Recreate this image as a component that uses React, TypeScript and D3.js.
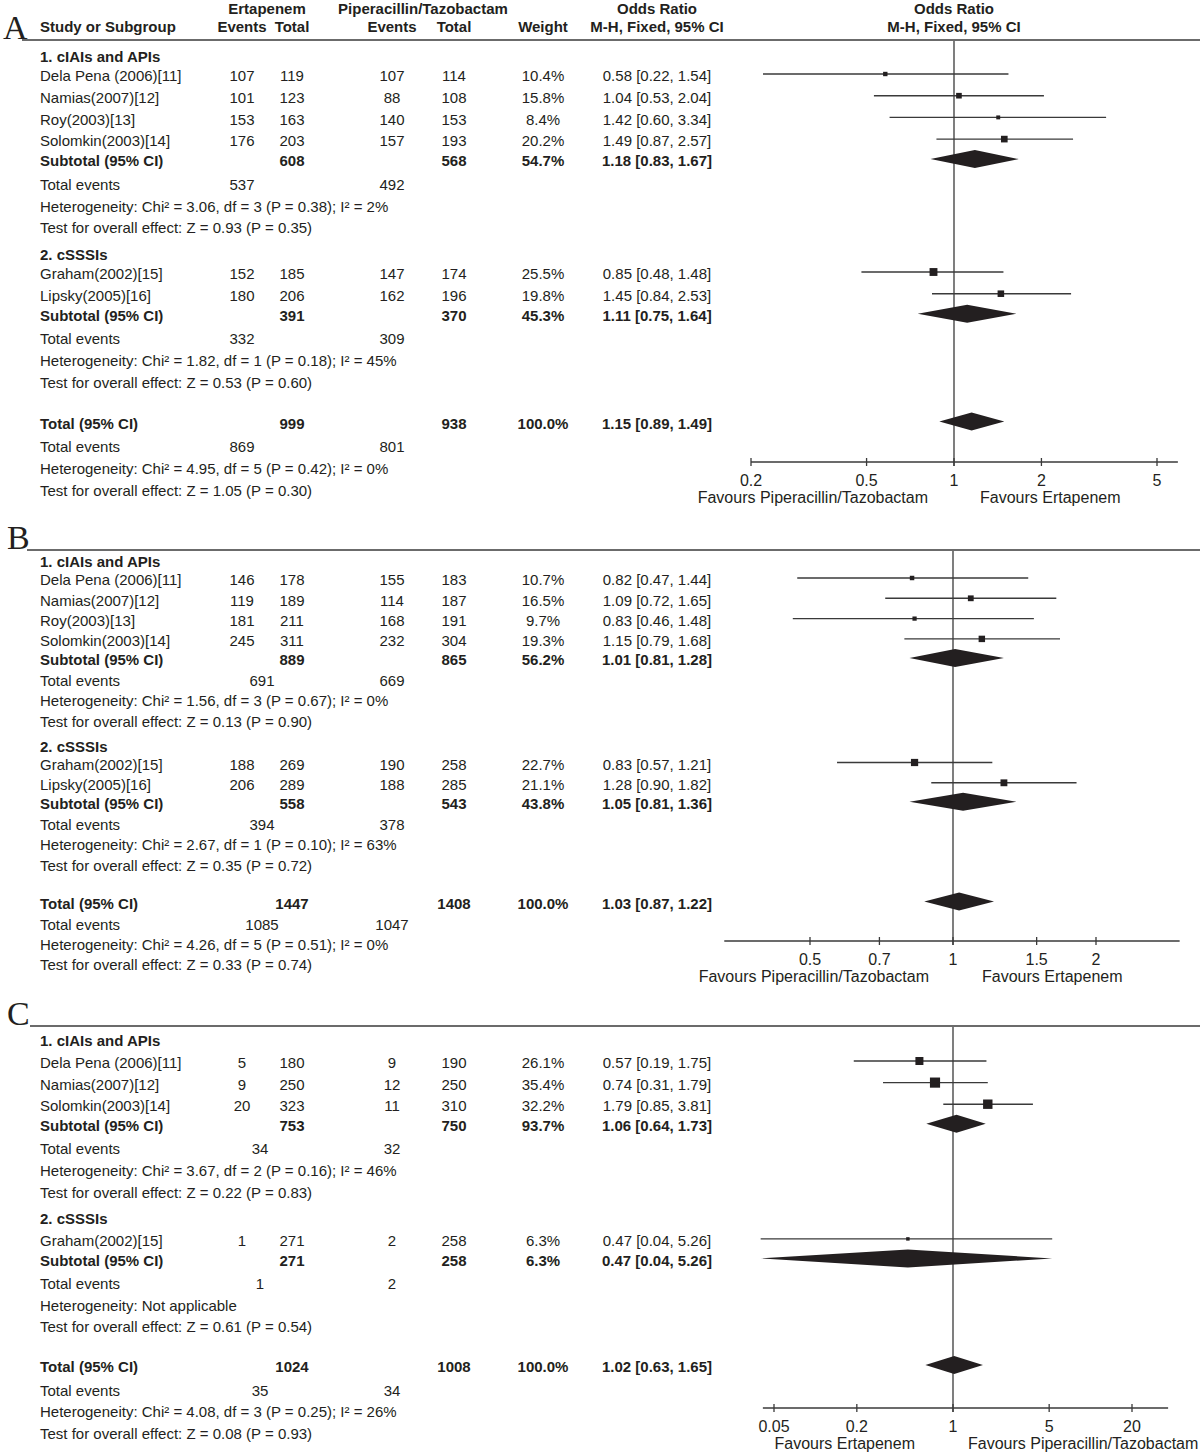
import React from "react";
import * as d3 from "d3";

interface Study { name: string; ertEvents: number; ertTotal: number; pipEvents: number; pipTotal: number; weight: number; or: number; lo: number; hi: number; }
interface Summary { label: string; ertTotal: number; pipTotal: number; weight: number; or: number; lo: number; hi: number; ertEvents: number; pipEvents: number; heterogeneity: string; overall: string; }

const groupLabels = ["1. cIAIs and APIs", "2. cSSSIs"];

// ---------- Panel A ----------
const studiesA1: Study[] = [
  { name: "Dela Pena (2006)[11]", ertEvents: 107, ertTotal: 119, pipEvents: 107, pipTotal: 114, weight: 10.4, or: 0.58, lo: 0.22, hi: 1.54 },
  { name: "Namias(2007)[12]", ertEvents: 101, ertTotal: 123, pipEvents: 88, pipTotal: 108, weight: 15.8, or: 1.04, lo: 0.53, hi: 2.04 },
  { name: "Roy(2003)[13]", ertEvents: 153, ertTotal: 163, pipEvents: 140, pipTotal: 153, weight: 8.4, or: 1.42, lo: 0.6, hi: 3.34 },
  { name: "Solomkin(2003)[14]", ertEvents: 176, ertTotal: 203, pipEvents: 157, pipTotal: 193, weight: 20.2, or: 1.49, lo: 0.87, hi: 2.57 },
];
const studiesA2: Study[] = [
  { name: "Graham(2002)[15]", ertEvents: 152, ertTotal: 185, pipEvents: 147, pipTotal: 174, weight: 25.5, or: 0.85, lo: 0.48, hi: 1.48 },
  { name: "Lipsky(2005)[16]", ertEvents: 180, ertTotal: 206, pipEvents: 162, pipTotal: 196, weight: 19.8, or: 1.45, lo: 0.84, hi: 2.53 },
];
const subtotalsA: Summary[] = [
  { label: "Subtotal (95% CI)", ertTotal: 608, pipTotal: 568, weight: 54.7, or: 1.18, lo: 0.83, hi: 1.67, ertEvents: 537, pipEvents: 492, heterogeneity: "Heterogeneity: Chi² = 3.06, df = 3 (P = 0.38); I² = 2%", overall: "Test for overall effect: Z = 0.93 (P = 0.35)" },
  { label: "Subtotal (95% CI)", ertTotal: 391, pipTotal: 370, weight: 45.3, or: 1.11, lo: 0.75, hi: 1.64, ertEvents: 332, pipEvents: 309, heterogeneity: "Heterogeneity: Chi² = 1.82, df = 1 (P = 0.18); I² = 45%", overall: "Test for overall effect: Z = 0.53 (P = 0.60)" },
];
const totalA: Summary = { label: "Total (95% CI)", ertTotal: 999, pipTotal: 938, weight: 100.0, or: 1.15, lo: 0.89, hi: 1.49, ertEvents: 869, pipEvents: 801, heterogeneity: "Heterogeneity: Chi² = 4.95, df = 5 (P = 0.42); I² = 0%", overall: "Test for overall effect: Z = 1.05 (P = 0.30)" };
const ticksA = [0.2, 0.5, 1, 2, 5];
const favoursA = ["Favours Piperacillin/Tazobactam", "Favours Ertapenem"];

// ---------- Panel B ----------
const studiesB1: Study[] = [
  { name: "Dela Pena (2006)[11]", ertEvents: 146, ertTotal: 178, pipEvents: 155, pipTotal: 183, weight: 10.7, or: 0.82, lo: 0.47, hi: 1.44 },
  { name: "Namias(2007)[12]", ertEvents: 119, ertTotal: 189, pipEvents: 114, pipTotal: 187, weight: 16.5, or: 1.09, lo: 0.72, hi: 1.65 },
  { name: "Roy(2003)[13]", ertEvents: 181, ertTotal: 211, pipEvents: 168, pipTotal: 191, weight: 9.7, or: 0.83, lo: 0.46, hi: 1.48 },
  { name: "Solomkin(2003)[14]", ertEvents: 245, ertTotal: 311, pipEvents: 232, pipTotal: 304, weight: 19.3, or: 1.15, lo: 0.79, hi: 1.68 },
];
const studiesB2: Study[] = [
  { name: "Graham(2002)[15]", ertEvents: 188, ertTotal: 269, pipEvents: 190, pipTotal: 258, weight: 22.7, or: 0.83, lo: 0.57, hi: 1.21 },
  { name: "Lipsky(2005)[16]", ertEvents: 206, ertTotal: 289, pipEvents: 188, pipTotal: 285, weight: 21.1, or: 1.28, lo: 0.9, hi: 1.82 },
];
const subtotalsB: Summary[] = [
  { label: "Subtotal (95% CI)", ertTotal: 889, pipTotal: 865, weight: 56.2, or: 1.01, lo: 0.81, hi: 1.28, ertEvents: 691, pipEvents: 669, heterogeneity: "Heterogeneity: Chi² = 1.56, df = 3 (P = 0.67); I² = 0%", overall: "Test for overall effect: Z = 0.13 (P = 0.90)" },
  { label: "Subtotal (95% CI)", ertTotal: 558, pipTotal: 543, weight: 43.8, or: 1.05, lo: 0.81, hi: 1.36, ertEvents: 394, pipEvents: 378, heterogeneity: "Heterogeneity: Chi² = 2.67, df = 1 (P = 0.10); I² = 63%", overall: "Test for overall effect: Z = 0.35 (P = 0.72)" },
];
const totalB: Summary = { label: "Total (95% CI)", ertTotal: 1447, pipTotal: 1408, weight: 100.0, or: 1.03, lo: 0.87, hi: 1.22, ertEvents: 1085, pipEvents: 1047, heterogeneity: "Heterogeneity: Chi² = 4.26, df = 5 (P = 0.51); I² = 0%", overall: "Test for overall effect: Z = 0.33 (P = 0.74)" };
const ticksB = [0.5, 0.7, 1, 1.5, 2];
const favoursB = ["Favours Piperacillin/Tazobactam", "Favours Ertapenem"];

// ---------- Panel C ----------
const studiesC1: Study[] = [
  { name: "Dela Pena (2006)[11]", ertEvents: 5, ertTotal: 180, pipEvents: 9, pipTotal: 190, weight: 26.1, or: 0.57, lo: 0.19, hi: 1.75 },
  { name: "Namias(2007)[12]", ertEvents: 9, ertTotal: 250, pipEvents: 12, pipTotal: 250, weight: 35.4, or: 0.74, lo: 0.31, hi: 1.79 },
  { name: "Solomkin(2003)[14]", ertEvents: 20, ertTotal: 323, pipEvents: 11, pipTotal: 310, weight: 32.2, or: 1.79, lo: 0.85, hi: 3.81 },
];
const studiesC2: Study[] = [
  { name: "Graham(2002)[15]", ertEvents: 1, ertTotal: 271, pipEvents: 2, pipTotal: 258, weight: 6.3, or: 0.47, lo: 0.04, hi: 5.26 },
];
const subtotalsC: Summary[] = [
  { label: "Subtotal (95% CI)", ertTotal: 753, pipTotal: 750, weight: 93.7, or: 1.06, lo: 0.64, hi: 1.73, ertEvents: 34, pipEvents: 32, heterogeneity: "Heterogeneity: Chi² = 3.67, df = 2 (P = 0.16); I² = 46%", overall: "Test for overall effect: Z = 0.22 (P = 0.83)" },
  { label: "Subtotal (95% CI)", ertTotal: 271, pipTotal: 258, weight: 6.3, or: 0.47, lo: 0.04, hi: 5.26, ertEvents: 1, pipEvents: 2, heterogeneity: "Heterogeneity: Not applicable", overall: "Test for overall effect: Z = 0.61 (P = 0.54)" },
];
const totalC: Summary = { label: "Total (95% CI)", ertTotal: 1024, pipTotal: 1008, weight: 100.0, or: 1.02, lo: 0.63, hi: 1.65, ertEvents: 35, pipEvents: 34, heterogeneity: "Heterogeneity: Chi² = 4.08, df = 3 (P = 0.25); I² = 26%", overall: "Test for overall effect: Z = 0.08 (P = 0.93)" };
const ticksC = [0.05, 0.2, 1, 5, 20];
const favoursC = ["Favours Ertapenem", "Favours Piperacillin/Tazobactam"];

// ---------- Header ----------
const headerTop = ["Ertapenem", "Piperacillin/Tazobactam", "Odds Ratio", "Odds Ratio"];
const headerBottom = ["Study or Subgroup", "Events", "Total", "Events", "Total", "Weight", "M-H, Fixed, 95% CI", "M-H, Fixed, 95% CI"];

// ---------- Layout (positions / styles) ----------
const W = 1200;
const H = 1453;
const FONT = "'Liberation Sans', Arial, Helvetica, sans-serif";
const SERIF = "'Liberation Serif', 'Times New Roman', serif";
const INK = "#231f20";
const LINE = "#3a3a3a";
const COL = { study: 40, ertEv: 242, ertTot: 292, pipEv: 392, pipTot: 454, weight: 543, or: 657 };

interface PanelCfg {
  letter: string; letterX: number; ruleY: number; ruleX0: number;
  start: number; step: number; gs: number; ss: number; te: number; tg: number; tt: number;
  axisY: number; domain: [number, number]; range: [number, number]; axisExtent: [number, number];
  ticks: number[]; favours: string[]; favL: number; favR: number; teX: number;
  groups: Study[][]; subs: Summary[]; total: Summary; header: boolean;
}

const panels: PanelCfg[] = [
  { letter: "A", letterX: 3, ruleY: 40, ruleX0: 22, start: 57, step: 21.7, gs: 19, ss: 20, te: 23.5, tg: 27, tt: 41,
    axisY: 462, domain: [0.2, 5], range: [751, 1157], axisExtent: [0.2, 5.9], ticks: ticksA, favours: favoursA, favL: 928, favR: 980, teX: 242,
    groups: [studiesA1, studiesA2], subs: subtotalsA, total: totalA, header: true },
  { letter: "B", letterX: 7, ruleY: 550, ruleX0: 27, start: 562, step: 20.3, gs: 18, ss: 19, te: 21, tg: 25, tt: 38,
    axisY: 941, domain: [0.5, 2], range: [810, 1096], axisExtent: [0.33, 3.0], ticks: ticksB, favours: favoursB, favL: 929, favR: 982, teX: 262,
    groups: [studiesB1, studiesB2], subs: subtotalsB, total: totalB, header: false },
  { letter: "C", letterX: 7, ruleY: 1026, ruleX0: 30, start: 1040.5, step: 21.6, gs: 22.5, ss: 19.5, te: 23.5, tg: 26, tt: 40,
    axisY: 1408, domain: [0.05, 20], range: [774, 1132], axisExtent: [0.0415, 36.6], ticks: ticksC, favours: favoursC, favL: 915, favR: 968, teX: 260,
    groups: [studiesC1, studiesC2], subs: subtotalsC, total: totalC, header: false },
];

type Row =
  | { kind: "group"; y: number; label: string }
  | { kind: "study"; y: number; s: Study }
  | { kind: "sub" | "total"; y: number; s: Summary }
  | { kind: "te"; y: number; s: Summary }
  | { kind: "het" | "test"; y: number; text: string };

function layoutRows(p: PanelCfg): Row[] {
  const rows: Row[] = [];
  let y = p.start;
  let prev: string | null = null;
  const push = (r: any) => {
    if (prev !== null) {
      let inc = p.step;
      if (r.kind === "study" && prev === "group") inc = p.gs;
      else if (r.kind === "sub") inc = p.ss;
      else if (r.kind === "te" && (prev === "sub" || prev === "total")) inc = p.te;
      else if (r.kind === "group") inc = p.tg;
      else if (r.kind === "total") inc = p.tt;
      y += inc;
    }
    rows.push({ ...r, y });
    prev = r.kind;
  };
  p.groups.forEach((studies, gi) => {
    push({ kind: "group", label: groupLabels[gi] });
    studies.forEach((s) => push({ kind: "study", s }));
    const sub = p.subs[gi];
    push({ kind: "sub", s: sub });
    push({ kind: "te", s: sub });
    push({ kind: "het", text: sub.heterogeneity });
    push({ kind: "test", text: sub.overall });
  });
  push({ kind: "total", s: p.total });
  push({ kind: "te", s: p.total });
  push({ kind: "het", text: p.total.heterogeneity });
  push({ kind: "test", text: p.total.overall });
  return rows;
}

const fmtCI = (o: number, l: number, h: number) => `${o.toFixed(2)} [${l.toFixed(2)}, ${h.toFixed(2)}]`;
const fmtW = (w: number) => `${w.toFixed(1)}%`;
const boxSize = d3.scaleLinear().domain([0, 40]).range([2, 11.2]);
const fmtTick = (v: number) => String(v);

function T(props: { x: number; y: number; anchor?: string; bold?: boolean; size?: number; children: React.ReactNode }) {
  return (
    <text x={props.x} y={props.y} dy="0.35em" textAnchor={(props.anchor as any) || "start"}
      fontWeight={props.bold ? "bold" : "normal"} fontSize={props.size || 15} fontFamily={FONT} fill={INK}>
      {props.children}
    </text>
  );
}

function Panel({ p }: { p: PanelCfg }) {
  const x = d3.scaleLog().domain(p.domain).range(p.range);
  const rows = layoutRows(p);
  const x1 = x(1);
  const markDy = -2;
  const dh = 9;
  const diamond = (s: Summary, y: number) => {
    const yy = y + markDy;
    return `M${x(s.lo)},${yy}L${x(s.or)},${yy - dh}L${x(s.hi)},${yy}L${x(s.or)},${yy + dh}Z`;
  };
  return (
    <g>
      <text x={p.letterX} y={p.ruleY - 1} fontFamily={SERIF} fontSize={34} fill={INK}>{p.letter}</text>
      <line x1={p.ruleX0} x2={W} y1={p.ruleY} y2={p.ruleY} stroke={LINE} strokeWidth={1.6} />
      {p.header && (
        <g>
          <T x={(COL.ertEv + COL.ertTot) / 2} y={9} anchor="middle" bold>{headerTop[0]}</T>
          <T x={(COL.pipEv + COL.pipTot) / 2} y={9} anchor="middle" bold>{headerTop[1]}</T>
          <T x={COL.or} y={9} anchor="middle" bold>{headerTop[2]}</T>
          <T x={x1} y={9} anchor="middle" bold>{headerTop[3]}</T>
          <T x={COL.study} y={27} bold>{headerBottom[0]}</T>
          <T x={COL.ertEv} y={27} anchor="middle" bold>{headerBottom[1]}</T>
          <T x={COL.ertTot} y={27} anchor="middle" bold>{headerBottom[2]}</T>
          <T x={COL.pipEv} y={27} anchor="middle" bold>{headerBottom[3]}</T>
          <T x={COL.pipTot} y={27} anchor="middle" bold>{headerBottom[4]}</T>
          <T x={COL.weight} y={27} anchor="middle" bold>{headerBottom[5]}</T>
          <T x={COL.or} y={27} anchor="middle" bold>{headerBottom[6]}</T>
          <T x={x1} y={27} anchor="middle" bold>{headerBottom[7]}</T>
        </g>
      )}
      {/* line of no effect */}
      <line x1={x1} x2={x1} y1={p.ruleY + 1} y2={p.axisY + 4} stroke={LINE} strokeWidth={1.3} />
      {rows.map((r, i) => {
        if (r.kind === "group") return <T key={i} x={COL.study} y={r.y} bold>{r.label}</T>;
        if (r.kind === "study") {
          const s = r.s;
          const sz = boxSize(s.weight);
          const yy = r.y + markDy;
          return (
            <g key={i}>
              <T x={COL.study} y={r.y}>{s.name}</T>
              <T x={COL.ertEv} y={r.y} anchor="middle">{s.ertEvents}</T>
              <T x={COL.ertTot} y={r.y} anchor="middle">{s.ertTotal}</T>
              <T x={COL.pipEv} y={r.y} anchor="middle">{s.pipEvents}</T>
              <T x={COL.pipTot} y={r.y} anchor="middle">{s.pipTotal}</T>
              <T x={COL.weight} y={r.y} anchor="middle">{fmtW(s.weight)}</T>
              <T x={COL.or} y={r.y} anchor="middle">{fmtCI(s.or, s.lo, s.hi)}</T>
              <line x1={x(s.lo)} x2={x(s.hi)} y1={yy} y2={yy} stroke={LINE} strokeWidth={1.4} />
              <rect x={x(s.or) - sz / 2} y={yy - sz / 2} width={sz} height={sz} fill={INK} />
            </g>
          );
        }
        if (r.kind === "sub" || r.kind === "total") {
          const s = r.s;
          return (
            <g key={i}>
              <T x={COL.study} y={r.y} bold>{s.label}</T>
              <T x={COL.ertTot} y={r.y} anchor="middle" bold>{s.ertTotal}</T>
              <T x={COL.pipTot} y={r.y} anchor="middle" bold>{s.pipTotal}</T>
              <T x={COL.weight} y={r.y} anchor="middle" bold>{fmtW(s.weight)}</T>
              <T x={COL.or} y={r.y} anchor="middle" bold>{fmtCI(s.or, s.lo, s.hi)}</T>
              <path d={diamond(s, r.y)} fill={INK} />
            </g>
          );
        }
        if (r.kind === "te") {
          return (
            <g key={i}>
              <T x={COL.study} y={r.y}>Total events</T>
              <T x={p.teX} y={r.y} anchor="middle">{r.s.ertEvents}</T>
              <T x={COL.pipEv} y={r.y} anchor="middle">{r.s.pipEvents}</T>
            </g>
          );
        }
        return <T key={i} x={COL.study} y={r.y}>{(r as any).text}</T>;
      })}
      {/* axis */}
      <line x1={x(p.axisExtent[0])} x2={x(p.axisExtent[1])} y1={p.axisY} y2={p.axisY} stroke={LINE} strokeWidth={1.6} />
      {p.ticks.map((t, i) => (
        <g key={i}>
          <line x1={x(t)} x2={x(t)} y1={p.axisY - 4} y2={p.axisY + 4} stroke={LINE} strokeWidth={1.3} />
          <T x={x(t)} y={p.axisY + 18} anchor="middle" size={16}>{fmtTick(t)}</T>
        </g>
      ))}
      <T x={p.favL} y={p.axisY + 35} anchor="end" size={16}>{p.favours[0]}</T>
      <T x={p.favR} y={p.axisY + 35} size={16}>{p.favours[1]}</T>
    </g>
  );
}

export default function App() {
  return (
    <svg width={W} height={H} viewBox={`0 0 ${W} ${H}`} style={{ position: "absolute", left: 0, top: 0, background: "#fff" }}>
      <rect x={0} y={0} width={W} height={H} fill="#fff" />
      {panels.map((p) => <Panel key={p.letter} p={p} />)}
    </svg>
  );
}
